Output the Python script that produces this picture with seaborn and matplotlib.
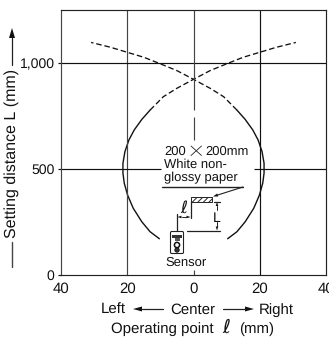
import matplotlib
matplotlib.use("Agg")
import matplotlib.pyplot as plt
import seaborn as sns
import pandas as pd
from matplotlib.patches import Rectangle, FancyBboxPatch, Circle, Polygon
from matplotlib.lines import Line2D
from matplotlib.transforms import Affine2D

sns.set_style("white")
plt.rcParams['font.family'] = ['Liberation Sans', 'DejaVu Sans']
plt.rcParams['hatch.linewidth'] = 0.7
plt.rcParams['text.hinting'] = 'no_hinting'
plt.rcParams['text.hinting_factor'] = 1

# data
left_solid_x = [-10.3, -13.1, -15.6, -18.2, -19.9, -20.9, -21.3, -21.3, -20.7, -19.5, -17.9, -15.6, -13.1]
left_solid_y = [171, 204, 251, 315, 377, 433, 480, 527, 582, 637, 684, 734, 778]
right_solid_x = [10.3, 13.1, 15.6, 18.2, 19.9, 20.9, 21.3, 21.3, 20.7, 19.5, 17.9, 15.6, 13.1]
right_solid_y = [171, 204, 251, 315, 377, 433, 480, 527, 582, 637, 684, 734, 778]
left_dash_x = [-13.1, -9.1, -5.1, 0, 5, 10.3, 15, 19.9, 25, 30.9]
left_dash_y = [778, 841, 880, 923, 964, 998, 1027, 1050, 1074, 1097]
right_dash_x = [13.1, 9.1, 5.1, 0, -5, -10.3, -15, -19.9, -25, -30.9]
right_dash_y = [778, 841, 880, 923, 964, 998, 1027, 1050, 1074, 1097]
x_ticks = [-40, -20, 0, 20, 40]
x_tick_labels = ["40", "20", "0", "20", "40"]
y_ticks = [0, 500, 1000]
y_tick_labels = ["0", "500", "1,000"]

W, H = 329, 338
fig = plt.figure(figsize=(W / 100, H / 100), dpi=100, facecolor="white")
ax = fig.add_axes([61 / W, 1 - 275 / H, 265 / W, 265 / H])
ink = "#111111"
soft = "#444444"
LW = 0.85

def curve(xs, ys, **kw):
    sns.lineplot(data=pd.DataFrame({"x": xs, "y": ys}), x="x", y="y", sort=False,
                 estimator=None, color=ink, ax=ax, clip_on=False, **kw)

curve(left_solid_x, left_solid_y, lw=1.0)
curve(right_solid_x, right_solid_y, lw=1.0)
curve(left_dash_x, left_dash_y, lw=0.95, linestyle=(0, (4.2, 2.2)))
curve(right_dash_x, right_dash_y, lw=0.95, linestyle=(0, (4.2, 2.2)))

ax.set_xlim(-40, 40)
ax.set_ylim(0, 1250)
ax.set_xlabel("")
ax.set_ylabel("")
ax.set_xticks(x_ticks, x_tick_labels, fontsize=11)
ax.set_yticks(y_ticks, y_tick_labels, fontsize=10.2)
ax.tick_params(axis="x", length=0, pad=5, colors=ink)
ax.tick_params(axis="y", length=2.5, width=LW, pad=2.2, colors=ink, left=True)
for s in ax.spines.values():
    s.set_linewidth(LW)
    s.set_color("#222222")
ax.spines["left"].set_color(soft)

# grid with the gaps the reference leaves around the inset
ax.axvline(-20, color=soft, lw=LW)
ax.axvline(20, color=ink, lw=LW)
ax.axhline(1000, color=ink, lw=LW)
ax.hlines(500, -40, -9.9, color=ink, lw=LW)
ax.hlines(500, 18.3, 40, color=ink, lw=LW)
ax.vlines(0, 778, 1250, color=soft, lw=LW)
ax.vlines(0, 637, 745, color=soft, lw=LW)
ax.vlines(0, 0, 24, color=soft, lw=LW)

# pixel-space overlay for the annotation graphics
px = Affine2D().scale(1, -1).translate(0, H)

def T(x, y, s, **kw):
    kw.setdefault("fontsize", 11)
    kw.setdefault("color", ink)
    kw.setdefault("va", "baseline")
    return fig.text(x, y, s, transform=px, **kw)

def L(xs, ys, lw=0.9, c="#222222"):
    fig.add_artist(Line2D(xs, ys, transform=px, color=c, lw=lw))

def A(x0, y0, x1, y1, hl=9.0, hw=2.6, lw=0.9):
    """line with a filled triangular head ending at x1, y1 (pixels)"""
    dx, dy = x1 - x0, y1 - y0
    n = (dx * dx + dy * dy) ** 0.5
    ux, uy = dx / n, dy / n
    bx, by = x1 - ux * hl, y1 - uy * hl
    L([x0, bx], [y0, by], lw=lw)
    fig.add_artist(Polygon([(x1, y1), (bx - uy * hw, by + ux * hw), (bx + uy * hw, by - ux * hw)],
                           closed=True, transform=px, facecolor=ink, edgecolor="none"))

# inset text
T(164, 155, "200", fontsize=9.6)
L([191, 201.5], [146, 155.5], lw=0.6)
L([191, 201.5], [155.5, 146], lw=0.6)
T(205, 155, "200mm", fontsize=9.6)
T(164, 168.3, "White non-", fontsize=9.6)
T(164, 181.7, "glossy paper", fontsize=9.6)
L([162, 243], [187, 187], lw=1.0)
A(243, 187, 213, 196.5, hl=5, hw=1.6, lw=0.8)
fig.add_artist(Rectangle((190.7, 197.2), 21, 4.5, transform=px, facecolor="white",
                         edgecolor="#222222", hatch="//////", lw=0.7))
L([191, 191], [201, 218])
L([177, 177], [214, 231])
A(184, 217, 190.5, 217, hl=4, hw=1.3, lw=0.7)
A(184, 217, 177.5, 217, hl=4, hw=1.3, lw=0.7)
T(184, 213, "\u2113", fontsize=12, ha="center", family=["DejaVu Sans"], style="italic")
L([187, 220], [231, 231])
L([214, 220], [201.5, 201.5])
A(217, 210, 217, 202, hl=4, hw=1.3, lw=0.7)
A(217, 222, 217, 230.5, hl=4, hw=1.3, lw=0.7)
T(216.5, 221.5, "L", fontsize=10, ha="center")
# sensor glyph
fig.add_artist(FancyBboxPatch((170.5, 231.5), 13, 22, transform=px,
                              boxstyle="round,pad=0,rounding_size=1.2",
                              facecolor="white", edgecolor="#222222", lw=0.8))
fig.add_artist(Rectangle((172, 235), 10, 2.5, transform=px, facecolor="#333333", edgecolor="none"))
fig.add_artist(Rectangle((174.5, 238), 5, 3, transform=px, facecolor="#555555", edgecolor="none"))
fig.add_artist(Circle((177, 245), 2.6, transform=px, facecolor="white", edgecolor="#111111", lw=1.1))
fig.add_artist(Circle((177, 250), 2.2, transform=px, facecolor="#333333", edgecolor="#111111", lw=0.6))
T(186, 265.7, "Sensor", fontsize=9.5, ha="center")

# bottom captions
T(100.7, 314, "Left", ha="left")
A(163, 309, 133, 309, hl=9, hw=2.5)
T(170, 314, "Center", ha="left")
A(223, 309, 254, 309, hl=9, hw=2.5)
T(259, 314, "Right", ha="left")
T(111, 333, "Operating point", ha="left", fontsize=10.8)
T(222, 333, "\u2113", fontsize=14, family=["DejaVu Sans"], style="italic", ha="left")
T(239, 333, "(mm)", ha="left")

# left axis caption
T(11.5, 153, "Setting distance L (mm)", rotation=90, ha="center", va="center", fontsize=11.2)
A(12, 65, 12, 28, hl=10, hw=3)
L([12, 12], [242, 267], lw=1.0, c=soft)

fig.savefig("out.png", dpi=100, facecolor="white")
